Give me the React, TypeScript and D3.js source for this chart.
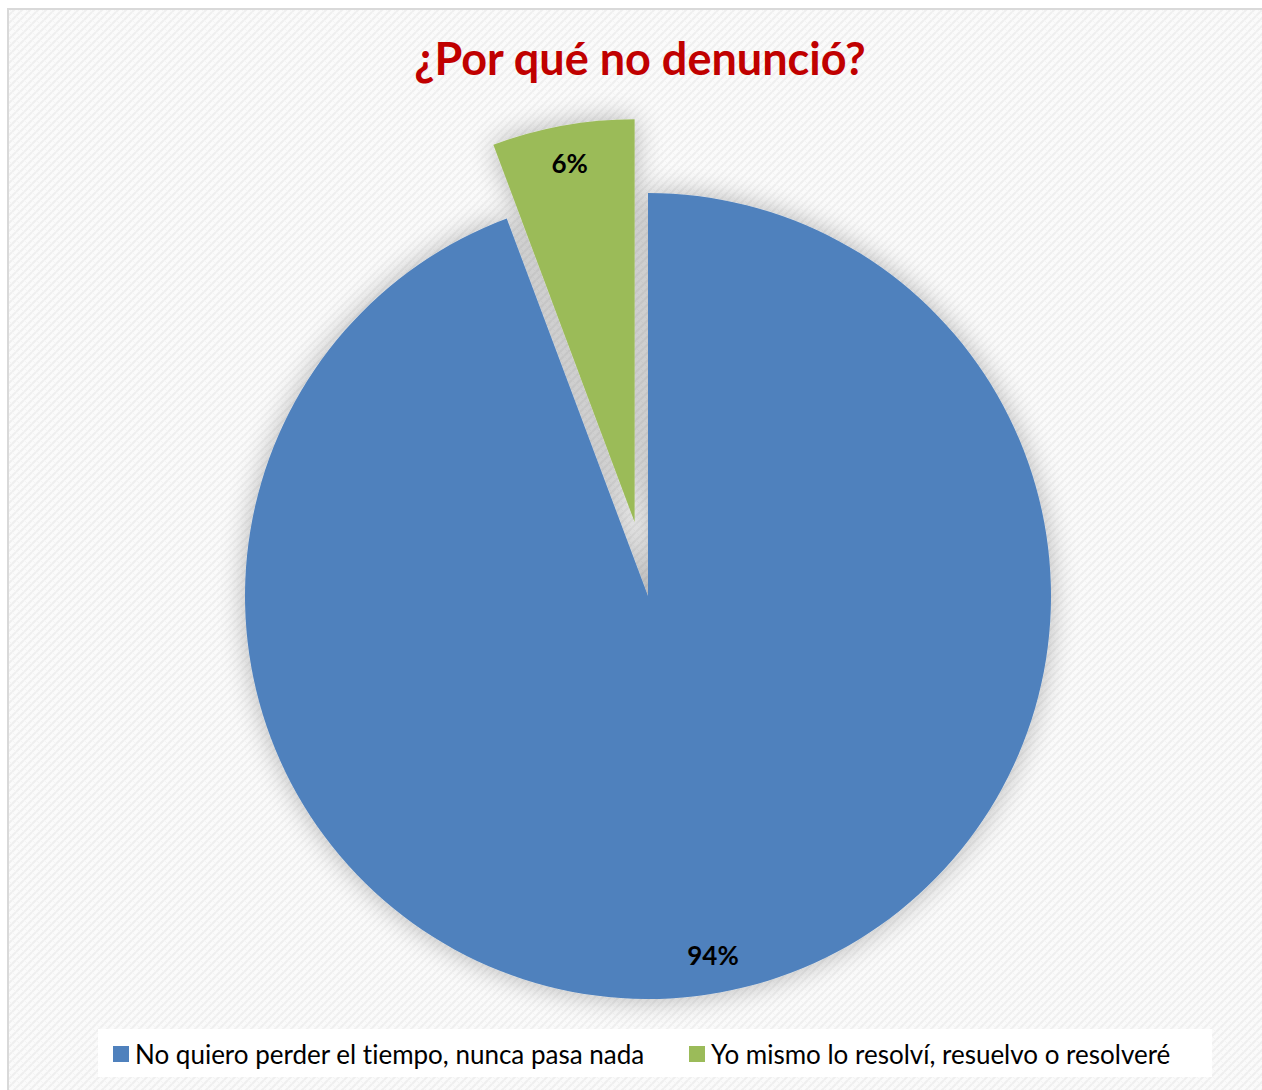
import React from "react";
import * as d3 from "d3";

const categories = ["No quiero perder el tiempo, nunca pasa nada", "Yo mismo lo resolví, resuelvo o resolveré"];
const values = [94.3, 5.7];
const labels = ["94%", "6%"];
const colors = ["#4F81BD", "#9BBB59"];
const exploded = [false, true];

const W = 1262, H = 1090;
const cx = 648, cy = 596, R = 403, EXPLODE = 75;

export default function App() {
  const pie = d3.pie<number>().sort(null).value((d) => d);
  const arcs = pie(values);
  const arc = d3.arc<d3.PieArcDatum<number>>().innerRadius(0).outerRadius(R);
  const labelArc = d3.arc<d3.PieArcDatum<number>>().innerRadius(R * 0.905).outerRadius(R * 0.905);

  const offset = (a: d3.PieArcDatum<number>, i: number) => {
    if (!exploded[i]) return [0, 0];
    const m = (a.startAngle + a.endAngle) / 2;
    return [Math.sin(m) * EXPLODE, -Math.cos(m) * EXPLODE];
  };

  const font = "Lato, 'Open Sans', 'Liberation Sans', sans-serif";
  const noLig = { fontVariantLigatures: "none" } as React.CSSProperties;

  return (
    <div style={{ position: "absolute", left: 0, top: 0 }}>
      <svg width={W} height={H} style={{ display: "block" }}>
        <defs>
          <pattern id="bg" width="8" height="8" patternUnits="userSpaceOnUse">
            <rect width="8" height="8" fill="#fbfbfb" />
            <path d="M-2,2 L2,-2 M0,8 L8,0 M6,10 L10,6" stroke="#efefef" strokeWidth="2" />
            <path d="M0,0 L8,8" stroke="#f4f4f4" strokeWidth="1" />
          </pattern>
          <filter id="shadow" x="-20%" y="-20%" width="140%" height="140%">
            <feGaussianBlur in="SourceAlpha" stdDeviation="14" />
            <feComponentTransfer>
              <feFuncA type="linear" slope="0.28" />
            </feComponentTransfer>
            <feMerge>
              <feMergeNode />
              <feMergeNode in="SourceGraphic" />
            </feMerge>
          </filter>
        </defs>
        <rect x={0} y={0} width={W} height={H} fill="#ffffff" />
        <rect x={8} y={9} width={W} height={H} fill="url(#bg)" stroke="#d9d9d9" strokeWidth={2} />
        <text x={640} y={75} textAnchor="middle" fontFamily={font} fontWeight={700} fontSize={45} fill="#C00000" style={noLig}>
          ¿Por qué no denunció?
        </text>
        <g transform={`translate(${cx},${cy})`} filter="url(#shadow)">
          {arcs.map((a, i) => {
            const [dx, dy] = offset(a, i);
            return <path key={i} d={arc(a) || ""} fill={colors[i]} transform={`translate(${dx},${dy})`} />;
          })}
        </g>
        <g transform={`translate(${cx},${cy})`}>
          {arcs.map((a, i) => {
            const [dx, dy] = offset(a, i);
            const [lx, ly] = labelArc.centroid(a);
            return (
              <text key={i} x={lx + dx} y={ly + dy} textAnchor="middle" dominantBaseline="central"
                fontFamily={font} fontWeight={700} fontSize={26} fill="#000">
                {labels[i]}
              </text>
            );
          })}
        </g>
        <rect x={98} y={1029} width={1114} height={48} fill="#ffffff" />
        {categories.map((c, i) => {
          const x = i === 0 ? 113 : 689;
          return (
            <g key={i}>
              <rect x={x} y={1046} width={16} height={16} fill={colors[i]} />
              <text x={x + 22} y={1054} dominantBaseline="central" fontFamily={font} fontSize={26} fill="#000" style={noLig}>
                {c}
              </text>
            </g>
          );
        })}
      </svg>
    </div>
  );
}
